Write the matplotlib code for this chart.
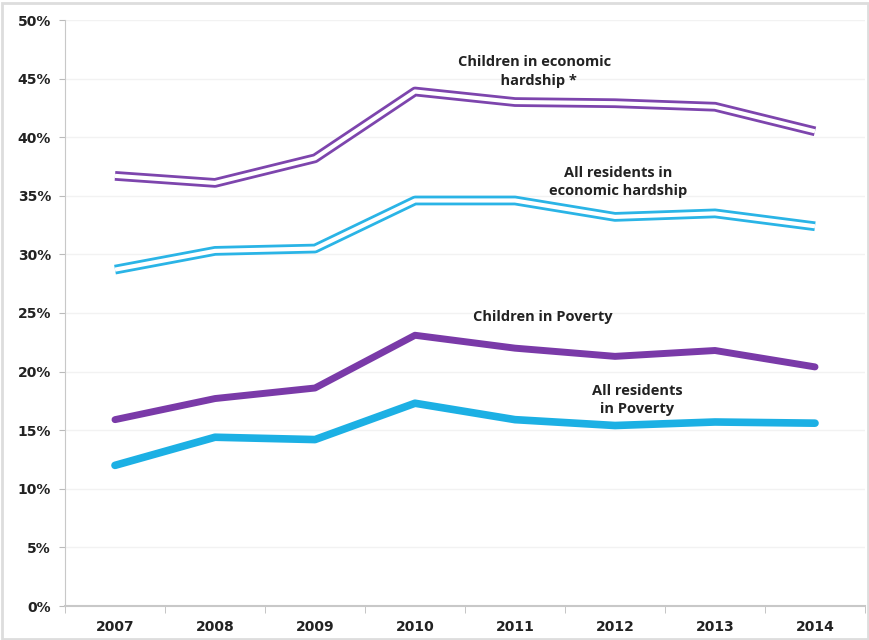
import numpy as np
import matplotlib.pyplot as plt
from matplotlib.ticker import FixedLocator

years = ['2007', '2008', '2009', '2010', '2011', '2012', '2013', '2014']
children_hardship = [36.7, 36.1, 38.2, 43.9, 43.0, 42.9, 42.6, 40.5]
residents_hardship = [28.7, 30.3, 30.5, 34.6, 34.6, 33.2, 33.5, 32.4]
children_poverty = [15.9, 17.7, 18.6, 23.1, 22.0, 21.3, 21.8, 20.4]
residents_poverty = [12.0, 14.4, 14.2, 17.3, 15.9, 15.4, 15.7, 15.6]

purple = '#7a3aa8'
blue = '#1cb0e4'

fig = plt.figure(figsize=(8.7, 6.4), dpi=100)
ax = fig.add_axes([65 / 870, 34 / 640, 800 / 870, 586 / 640])
x = np.arange(len(years))

# double lines for the hardship series
for vals, col in [(children_hardship, '#7d45ad'), (residents_hardship, '#2ab4e6')]:
    ax.plot(x, vals, color=col, lw=7.0, solid_joinstyle='round',
            solid_capstyle='butt', zorder=3)
    ax.plot(x, vals, color='white', lw=3.0, solid_joinstyle='round',
            solid_capstyle='butt', zorder=4)

ax.plot(x, children_poverty, color=purple, lw=5.0, solid_capstyle='round', zorder=3)
ax.plot(x, residents_poverty, color=blue, lw=5.5, solid_capstyle='round', zorder=3)

ax.set_xlim(-0.5, 7.5)
ax.set_ylim(0, 50)
ax.set_yticks(np.arange(0, 51, 5))
ax.set_yticklabels([f'{v}%' for v in range(0, 51, 5)])
ax.set_xticks(x)
ax.set_xticklabels(years)
ax.xaxis.set_minor_locator(FixedLocator(np.arange(-0.5, 8, 1)))
ax.tick_params(axis='x', which='major', length=0, pad=10)
ax.tick_params(axis='x', which='minor', length=5, color='#bbbbbb')
ax.tick_params(axis='y', length=4, color='#bbbbbb', pad=6)
for lab in ax.get_xticklabels() + ax.get_yticklabels():
    lab.set_fontweight('bold')
    lab.set_color('#222222')
    lab.set_fontsize(10)

ax.grid(axis='y', color='#f2f2f2', lw=1)
ax.set_axisbelow(True)
for s in ['top', 'right']:
    ax.spines[s].set_visible(False)
ax.spines['left'].set_color('#c8c8c8')
ax.spines['bottom'].set_color('#c8c8c8')
ax.spines['bottom'].set_linewidth(1.5)

lab_kw = dict(ha='center', va='center', fontsize=10.5, fontweight='bold',
              color='#222222', linespacing=1.4, family=['Open Sans', 'DejaVu Sans'])
ax.text(4.2, 45.6, 'Children in economic\n  hardship *', **lab_kw)
ax.text(5.03, 36.2, 'All residents in\neconomic hardship', **lab_kw)
ax.text(4.28, 24.7, 'Children in Poverty', **lab_kw)
ax.text(5.22, 17.6, 'All residents\nin Poverty', **lab_kw)

fig.patches.append(plt.Rectangle((0.002, 0.002), 0.996, 0.994, transform=fig.transFigure,
                                 fill=False, edgecolor='#dddddd', lw=2))

fig.savefig('out.png', dpi=100)
